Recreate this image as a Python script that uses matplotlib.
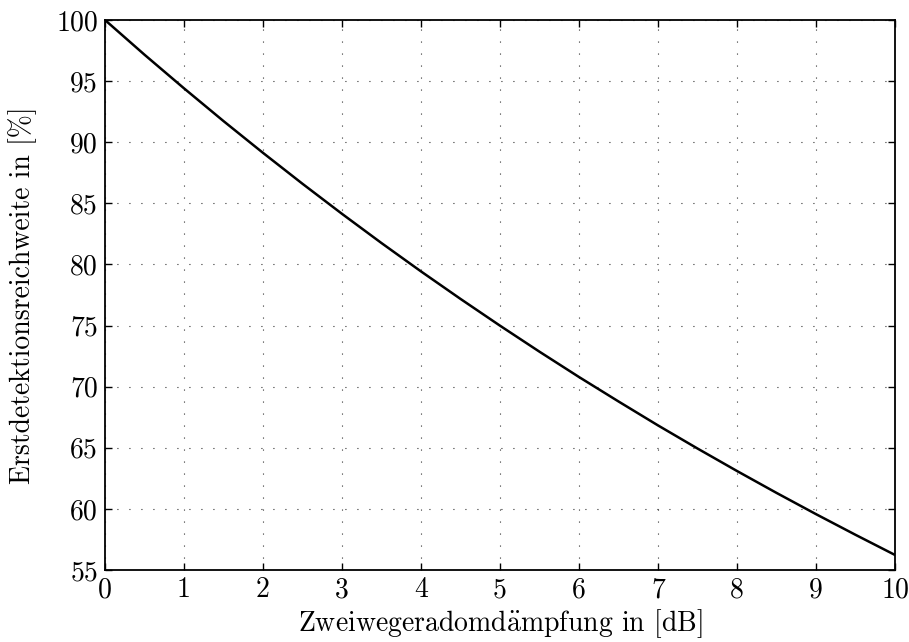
import numpy as np
import matplotlib.pyplot as plt

# Zweiwegeradomdämpfung [dB] und relative Erstdetektionsreichweite [%]
daempfung_db = [0, 0.5, 1, 1.5, 2, 2.5, 3, 3.5, 4, 4.5, 5,
                5.5, 6, 6.5, 7, 7.5, 8, 8.5, 9, 9.5, 10]
reichweite = [100.0, 97.16, 94.41, 91.73, 89.13, 86.60, 84.14, 81.75, 79.43, 77.18, 74.99,
              72.86, 70.79, 68.79, 66.83, 64.94, 63.10, 61.31, 59.57, 57.88, 56.23]

xticks = list(range(0, 11))
yticks = list(range(55, 101, 5))

plt.rcParams['font.family'] = ['cmr10', 'DejaVu Serif']
plt.rcParams['mathtext.fontset'] = 'cm'
plt.rcParams['axes.formatter.use_mathtext'] = True

fig = plt.figure(figsize=(9.09, 6.42), dpi=100)
ax = fig.add_axes([105 / 909, 1 - 570 / 642, 790 / 909, 550 / 642])

ax.plot(daempfung_db, reichweite, color='black', linewidth=1.8)

ax.set_xlim(0, 10)
ax.set_ylim(55, 100)
ax.set_xticks(xticks)
ax.set_yticks(yticks)
ax.set_xticklabels([str(t) for t in xticks])
ax.set_yticklabels([str(t) for t in yticks])

ax.grid(True, color='black', linestyle=(0, (0.8, 10)), linewidth=0.8)
ax.tick_params(direction='in', length=5, width=1, top=True, right=True,
               labelsize=20, pad=5)
for s in ax.spines.values():
    s.set_linewidth(1.3)

ax.set_xlabel(r'Zweiwegeradomd$\ddot{\mathrm{a}}$mpfung in [dB]', fontsize=20, labelpad=3)
ax.set_ylabel('Erstdetektionsreichweite in [%]', fontsize=20, labelpad=14)

fig.savefig('out.png', dpi=100)
